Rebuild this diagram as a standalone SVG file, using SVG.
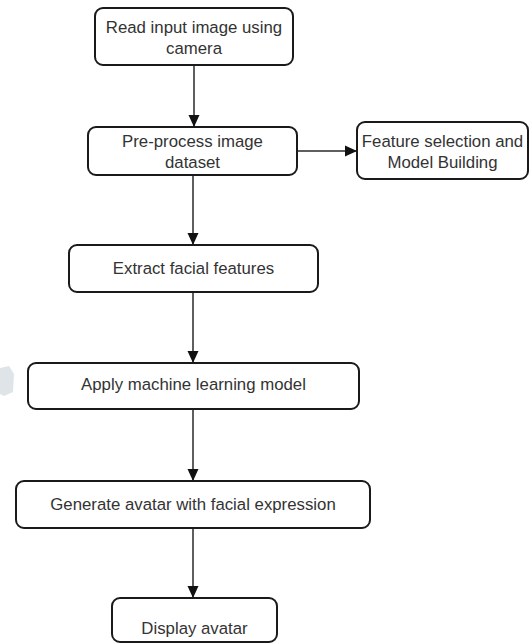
<svg xmlns="http://www.w3.org/2000/svg" width="530" height="644" viewBox="0 0 530 644">
  <style>
    .box { fill: #ffffff; stroke: #1a1a1a; stroke-width: 2; }
    .lbl { font-family: "Liberation Sans", Arial, sans-serif; font-size: 16.8px; fill: #333333; text-anchor: middle; }
    .edge { stroke: #2a2a2a; stroke-width: 1.5; fill: none; }
  </style>
  <defs>
    <marker id="arrow" viewBox="0 0 12 12" refX="12" refY="6" markerWidth="12" markerHeight="12" markerUnits="userSpaceOnUse" orient="auto">
      <path d="M0,0.5 L12,6 L0,11.5 Z" fill="#111111"/>
    </marker>
  </defs>
  <rect width="530" height="644" fill="#ffffff"/>

  <!-- faint grey mark at the left margin -->
  <path d="M0,368 L9,366 L14,374 L13,392 L4,396 L0,394 Z" fill="#d7dde2" opacity="0.8"/>

  <g id="connectors">
    <line class="edge" x1="194" y1="65" x2="194" y2="127" marker-end="url(#arrow)"/>
    <line class="edge" x1="297" y1="151" x2="357" y2="151" marker-end="url(#arrow)"/>
    <line class="edge" x1="193" y1="175" x2="193" y2="245" marker-end="url(#arrow)"/>
    <line class="edge" x1="193" y1="292" x2="193" y2="363" marker-end="url(#arrow)"/>
    <line class="edge" x1="193" y1="409" x2="193" y2="481" marker-end="url(#arrow)"/>
    <line class="edge" x1="193" y1="528" x2="193" y2="598" marker-end="url(#arrow)"/>
  </g>

  <g id="read-input">
    <rect class="box" x="95" y="8" width="198" height="57" rx="8"/>
    <text class="lbl" x="194" y="33">Read input image using</text>
    <text class="lbl" x="194" y="54">camera</text>
  </g>

  <g id="pre-process">
    <rect class="box" x="88" y="127" width="209" height="48" rx="8"/>
    <text class="lbl" x="192.5" y="147">Pre-process image</text>
    <text class="lbl" x="192.5" y="168">dataset</text>
  </g>

  <g id="feature-selection">
    <rect class="box" x="357" y="122" width="171" height="57" rx="8"/>
    <text class="lbl" x="442.5" y="147">Feature selection and</text>
    <text class="lbl" x="442.5" y="168">Model Building</text>
  </g>

  <g id="extract-features">
    <rect class="box" x="69" y="245" width="249" height="47" rx="8"/>
    <text class="lbl" x="193.5" y="274">Extract facial features</text>
  </g>

  <g id="apply-model">
    <rect class="box" x="28" y="363" width="331" height="46" rx="8"/>
    <text class="lbl" x="193.5" y="390">Apply machine learning model</text>
  </g>

  <g id="generate-avatar">
    <rect class="box" x="16" y="481" width="354" height="47" rx="8"/>
    <text class="lbl" x="193" y="510">Generate avatar with facial expression</text>
  </g>

  <g id="display-avatar">
    <rect class="box" x="112" y="598" width="165" height="44" rx="8"/>
    <text class="lbl" x="194.5" y="634">Display avatar</text>
  </g>
</svg>
